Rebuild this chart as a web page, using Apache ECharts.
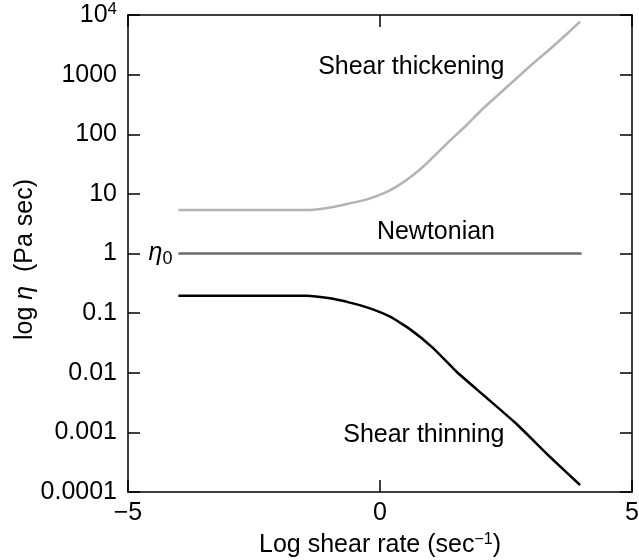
<!DOCTYPE html>
<html>
<head>
<meta charset="utf-8">
<script src="https://cdn.jsdelivr.net/npm/echarts@6/dist/echarts.min.js"></script>
<style>
  html, body { margin: 0; padding: 0; background: #fff; }
  #chart { width: 639px; height: 560px; }
</style>
</head>
<body>
<div id="chart"></div>
<script>
// x = log shear rate, y = viscosity (Pa sec)
var thickX = [-4, -1.39, -0.96, -0.6, -0.26, 0.07, 0.33, 0.66, 0.93, 1.32, 1.72, 2.05, 2.38, 2.71, 3.04, 3.37, 3.7, 3.97];
var thickY = [5.37, 5.37, 5.96, 6.95, 8.1, 10.2, 13.2, 20.7, 32.6, 68.7, 143, 273, 488, 871, 1553, 2670, 4760, 7750];
var newtX = [-4, 4];
var newtY = [1, 1];
var thinX = [-4, -1.46, -0.99, -0.6, -0.2, 0.2, 0.6, 1.06, 1.52, 2.05, 2.71, 3.37, 3.97];
var thinY = [0.196, 0.196, 0.177, 0.15, 0.12, 0.087, 0.0534, 0.0257, 0.0104, 0.00423, 0.00138, 0.00039, 0.000131];

var FONT = 'Liberation Sans';
var FS = 25;

function pairs(xs, ys) {
    var out = [];
    for (var i = 0; i < xs.length; i++) out.push([xs[i], ys[i]]);
    return out;
}

function yLabel(v) {
    var r = Number(v.toPrecision(1));
    if (r == 10000) return '10{sup|4}';
    return String(r);
}

var axisLine = { onZero: false, lineStyle: { color: '#000', width: 1.5 } };
var tick = { inside: true, length: 12, lineStyle: { color: '#000', width: 1.5 } };

function note(text, x, y, pos, fmt, rich) {
    return {
        symbol: 'circle', symbolSize: 0,
        label: { show: true, position: pos || 'inside', distance: 6, color: '#000', fontFamily: FONT, fontSize: FS, rich: rich },
        data: [{ coord: [x, y], value: text, label: { formatter: fmt || text } }]
    };
}

var etaRich = {
    it: { fontFamily: FONT, fontSize: FS, fontStyle: 'italic', color: '#000' },
    sub: { fontFamily: FONT, fontSize: 18, color: '#000', verticalAlign: 'bottom', padding: [12, 0, 0, 0] }
};

var chart = echarts.init(document.getElementById('chart'));
chart.setOption({
    animation: false,
    grid: { left: 128, right: 7, top: 15, bottom: 68, containLabel: false, outerBoundsMode: 'none' },
    xAxis: [{
        type: 'value', min: -5, max: 5, interval: 5,
        axisLine: axisLine, axisTick: tick, splitLine: { show: false },
        axisLabel: {
            color: '#000', fontFamily: FONT, fontSize: FS, margin: 9,
            formatter: function (v) { return v < 0 ? '\u2212' + (-v) : String(v); }
        },
        name: 'Log shear rate (sec{sup|\u22121})',
        nameLocation: 'middle', nameGap: 40, nameMoveOverlap: false,
        nameTextStyle: {
            color: '#000', fontFamily: FONT, fontSize: FS,
            rich: { sup: { fontFamily: FONT, fontSize: 16, color: '#000', verticalAlign: 'top', padding: [0, 0, 10, 0] } }
        }
    }, {
        type: 'value', min: -5, max: 5, interval: 5, position: 'top',
        axisLine: axisLine, axisTick: tick, splitLine: { show: false },
        axisLabel: { show: false }
    }],
    yAxis: [{
        type: 'log', logBase: 10, min: 0.0001, max: 10000, interval: 1,
        axisLine: axisLine, axisTick: tick, splitLine: { show: false },
        axisLabel: {
            color: '#000', fontFamily: FONT, fontSize: FS, margin: 11,
            formatter: yLabel,
            rich: { sup: { fontFamily: FONT, fontSize: 17, color: '#000', verticalAlign: 'top', padding: [0, 0, 12, 0] } }
        },
        name: 'log {it|η}  (Pa sec)',
        nameLocation: 'middle', nameRotate: 90, nameGap: 90, nameMoveOverlap: false,
        nameTextStyle: {
            color: '#000', fontFamily: FONT, fontSize: FS, padding: [0, 12, 0, 0],
            rich: { it: { fontFamily: FONT, fontSize: FS, fontStyle: 'italic', color: '#000' } }
        }
    }, {
        type: 'log', logBase: 10, min: 0.0001, max: 10000, interval: 1, position: 'right',
        axisLine: axisLine, axisTick: tick, splitLine: { show: false },
        axisLabel: { show: false }
    }],
    series: [{
        name: 'Shear thickening', type: 'line', data: pairs(thickX, thickY),
        smooth: 0.15, showSymbol: false, lineStyle: { color: '#b3b3b3', width: 2.5 },
        markPoint: note('Shear thickening', 0.62, 1350)
    }, {
        name: 'Newtonian', type: 'line', data: pairs(newtX, newtY),
        showSymbol: false, lineStyle: { color: '#6b6b6b', width: 2.5 },
        markPoint: note('Newtonian', 1.11, 2.3)
    }, {
        name: 'eta0', type: 'line', data: [],
        markPoint: note('eta0', newtX[0], newtY[0], 'left', '{it|η}{sub|0}', etaRich)
    }, {
        name: 'Shear thinning', type: 'line', data: pairs(thinX, thinY),
        smooth: 0.15, showSymbol: false, lineStyle: { color: '#000', width: 2.5 },
        markPoint: note('Shear thinning', 0.87, 0.0009)
    }]
});
</script>
</body>
</html>
